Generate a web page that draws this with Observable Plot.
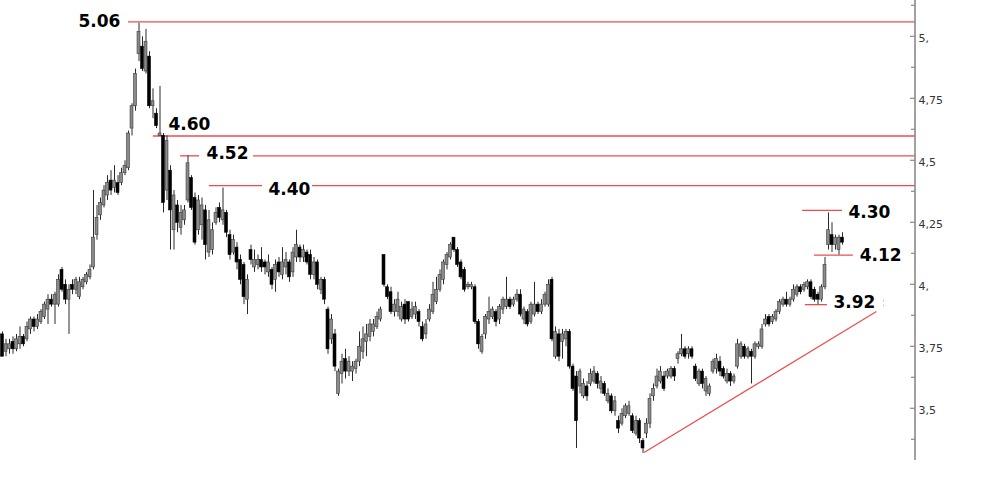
<!DOCTYPE html>
<html>
<head>
<meta charset="utf-8">
<script src="https://cdn.jsdelivr.net/npm/d3@7"></script>
<script src="https://cdn.jsdelivr.net/npm/@observablehq/plot@0.6"></script>
<style>
  html, body { margin: 0; padding: 0; background: #fff; }
  svg { display: block; }
</style>
</head>
<body>
<div id="chart"></div>
<script>
// ---- Candle data ----
const O = [
3.80,3.73,3.74,3.77,3.74,3.76,3.79,3.78,3.82,3.86,
3.83,3.85,3.87,3.90,3.94,3.92,3.92,4.06,4.00,3.94,
4.00,3.98,3.95,3.99,4.01,4.03,4.07,4.20,4.28,4.32,
4.36,4.42,4.39,4.41,4.41,4.45,4.47,4.63,4.72,4.93,
4.96,4.86,4.92,4.72,4.69,4.60,4.60,4.38,4.46,4.22,
4.32,4.23,4.26,4.34,4.43,4.35,4.22,4.24,4.30,4.13,
4.14,4.25,4.31,4.26,4.29,4.20,4.13,4.15,4.10,4.08,
3.94,4.14,4.07,4.08,4.10,4.09,4.05,4.06,4.02,4.09,
4.04,4.07,4.09,4.05,4.11,4.15,4.11,4.13,4.12,4.04,
4.09,3.98,4.02,3.90,3.78,3.80,3.56,3.64,3.70,3.65,
3.65,3.66,3.69,3.73,3.77,3.79,3.81,3.83,3.86,4.12,
3.99,3.97,3.89,3.89,3.86,3.92,3.93,3.87,3.88,3.89,
3.83,3.80,3.86,3.89,3.93,3.98,4.02,4.08,4.11,4.19,
4.14,4.09,4.06,3.99,3.99,3.99,3.85,3.73,3.80,3.86,
3.87,3.89,3.86,3.90,3.91,3.94,3.92,3.94,3.96,3.86,
3.89,3.85,3.88,3.92,3.89,3.92,3.92,4.02,3.71,3.80,
3.77,3.78,3.81,3.67,3.63,3.59,3.55,3.59,3.60,3.61,
3.64,3.58,3.60,3.53,3.55,3.49,3.45,3.44,3.47,3.48,
3.47,3.40,3.45,3.37,3.40,3.44,3.55,3.59,3.61,3.63,
3.63,3.63,3.66,3.70,3.72,3.74,3.72,3.74,3.67,3.60,
3.65,3.57,3.56,3.65,3.66,3.69,3.66,3.61,3.64,3.61,
3.67,3.71,3.75,3.71,3.73,3.71,3.75,3.75,3.84,3.87,
3.85,3.86,3.89,3.92,3.94,3.92,3.94,3.96,3.99,3.98,
3.99,4.01,3.98,3.96,3.94,3.99,4.16,4.20,4.16,4.14,
4.19];
const H = [
3.81,3.78,3.78,3.79,3.80,3.83,3.80,3.85,3.87,3.87,
3.88,3.90,3.93,3.96,3.96,3.97,4.04,4.07,4.02,4.00,
4.02,4.03,4.03,4.03,4.05,4.08,4.38,4.32,4.35,4.40,
4.44,4.46,4.48,4.44,4.47,4.50,4.62,4.73,4.87,5.055,
5.00,5.03,4.94,4.79,4.71,4.80,4.61,4.60,4.48,4.38,
4.34,4.32,4.32,4.52,4.44,4.37,4.36,4.35,4.32,4.30,
4.25,4.31,4.33,4.39,4.30,4.22,4.20,4.17,4.12,4.09,
4.04,4.16,4.14,4.12,4.15,4.10,4.12,4.07,4.10,4.11,
4.15,4.13,4.10,4.15,4.22,4.16,4.16,4.14,4.14,4.11,
4.10,4.03,4.03,3.91,3.88,3.82,3.66,3.72,3.74,3.71,
3.69,3.70,3.81,3.83,3.84,3.86,3.86,3.89,3.91,4.12,
4.00,3.99,3.94,3.97,3.93,3.94,3.93,3.93,3.93,3.90,
3.85,3.86,3.92,4.01,4.03,4.06,4.10,4.13,4.17,4.19,
4.15,4.10,4.07,4.01,4.01,4.00,3.86,3.80,3.88,3.95,
3.91,3.90,3.92,3.95,4.03,3.95,3.95,3.98,3.98,3.91,
3.90,3.93,4.01,3.93,3.94,3.97,4.02,4.03,3.83,3.82,
3.82,3.82,3.82,3.68,3.65,3.66,3.62,3.61,3.66,3.67,
3.65,3.63,3.61,3.58,3.56,3.55,3.47,3.50,3.52,3.53,
3.48,3.47,3.46,3.38,3.46,3.56,3.60,3.66,3.67,3.65,
3.66,3.67,3.67,3.73,3.80,3.75,3.75,3.75,3.68,3.66,
3.66,3.63,3.60,3.70,3.72,3.71,3.67,3.66,3.65,3.64,
3.78,3.77,3.76,3.75,3.74,3.77,3.77,3.84,3.88,3.88,
3.88,3.90,3.94,3.95,3.97,3.95,4.00,4.00,4.00,4.01,
4.02,4.02,3.99,3.97,4.00,4.11,4.29,4.25,4.20,4.20,
4.21];
const L = [
3.71,3.71,3.72,3.72,3.73,3.74,3.75,3.77,3.80,3.81,
3.82,3.84,3.86,3.84,3.91,3.84,3.91,3.97,3.92,3.80,
3.96,3.96,3.94,3.98,4.00,4.02,4.06,4.18,4.26,4.31,
4.34,4.36,4.37,4.36,4.40,4.44,4.46,4.60,4.70,4.90,
4.86,4.85,4.71,4.67,4.63,4.60,4.29,4.34,4.14,4.14,
4.21,4.20,4.24,4.33,4.30,4.16,4.20,4.18,4.10,4.11,
4.12,4.24,4.25,4.24,4.19,4.10,4.12,4.06,4.00,3.92,
3.88,4.08,4.05,4.06,4.05,4.04,4.03,3.98,3.97,4.03,
4.02,4.04,4.01,4.03,4.09,4.09,4.09,4.08,4.02,4.02,
3.98,3.96,3.92,3.72,3.76,3.65,3.55,3.60,3.62,3.63,
3.61,3.64,3.67,3.70,3.71,3.77,3.79,3.82,3.85,3.99,
3.94,3.88,3.87,3.87,3.85,3.84,3.85,3.86,3.86,3.83,
3.77,3.78,3.85,3.88,3.92,3.97,4.00,4.06,4.10,4.13,
4.07,4.02,3.97,3.98,3.98,3.84,3.74,3.72,3.78,3.84,
3.86,3.83,3.84,3.88,3.90,3.90,3.91,3.93,3.87,3.84,
3.83,3.84,3.87,3.88,3.88,3.91,3.91,3.77,3.70,3.69,
3.70,3.75,3.66,3.57,3.34,3.56,3.54,3.53,3.59,3.60,
3.58,3.56,3.55,3.52,3.48,3.47,3.40,3.43,3.46,3.47,
3.40,3.39,3.36,3.32,3.38,3.42,3.53,3.58,3.60,3.57,
3.62,3.62,3.61,3.68,3.71,3.70,3.70,3.70,3.61,3.59,
3.58,3.55,3.55,3.64,3.64,3.63,3.62,3.60,3.59,3.60,
3.66,3.70,3.70,3.70,3.60,3.70,3.74,3.74,3.83,3.83,
3.84,3.85,3.88,3.91,3.91,3.91,3.93,3.95,3.96,3.97,
3.98,3.94,3.93,3.92,3.93,3.98,4.14,4.13,4.14,4.12,
4.16];
const C = [
3.71,3.76,3.76,3.74,3.78,3.79,3.76,3.83,3.86,3.83,
3.86,3.89,3.92,3.94,3.92,3.96,4.02,3.98,3.94,3.98,
3.98,4.02,4.01,4.02,4.04,4.06,4.19,4.27,4.33,4.38,
4.41,4.38,4.42,4.37,4.45,4.48,4.61,4.72,4.85,5.02,
4.87,4.98,4.72,4.74,4.64,4.61,4.33,4.58,4.30,4.36,
4.25,4.29,4.30,4.49,4.31,4.17,4.34,4.32,4.16,4.26,
4.22,4.29,4.27,4.30,4.21,4.12,4.18,4.09,4.02,3.95,
4.02,4.10,4.10,4.10,4.07,4.07,4.09,4.00,4.08,4.05,
4.09,4.10,4.03,4.13,4.16,4.11,4.14,4.09,4.04,4.09,
4.00,4.02,3.94,3.74,3.86,3.67,3.65,3.69,3.65,3.69,
3.67,3.69,3.75,3.78,3.80,3.84,3.84,3.87,3.90,4.00,
3.95,3.89,3.92,3.94,3.91,3.86,3.86,3.90,3.91,3.85,
3.78,3.84,3.90,3.96,3.98,4.04,4.09,4.12,4.16,4.14,
4.08,4.03,3.98,4.00,4.00,3.85,3.76,3.79,3.87,3.89,
3.90,3.85,3.91,3.94,3.94,3.91,3.94,3.96,3.88,3.90,
3.84,3.92,3.92,3.89,3.92,3.96,4.00,3.78,3.81,3.71,
3.80,3.81,3.67,3.58,3.45,3.65,3.60,3.55,3.64,3.65,
3.60,3.61,3.56,3.56,3.49,3.53,3.42,3.48,3.51,3.51,
3.41,3.45,3.38,3.34,3.44,3.54,3.58,3.63,3.65,3.58,
3.65,3.66,3.63,3.72,3.74,3.71,3.74,3.71,3.62,3.65,
3.60,3.62,3.59,3.69,3.70,3.65,3.63,3.64,3.61,3.63,
3.76,3.76,3.71,3.74,3.71,3.76,3.76,3.82,3.86,3.84,
3.87,3.89,3.93,3.94,3.92,3.94,3.98,3.99,3.97,4.00,
4.01,3.95,3.94,3.94,3.99,4.08,4.22,4.16,4.19,4.19,
4.17];

// ---- Annotated price levels ----
const levelValues = [5.06, 4.60, 4.52, 4.40, 4.30, 4.12, 3.92];
const levelLabels = ["5.06", "4.60", "4.52", "4.40", "4.30", "4.12", "3.92"];

// ---- Axis ticks ----
const majorTicks = [5.0, 4.75, 4.5, 4.25, 4.0, 3.75, 3.5];
const tickLabels = ["5,", "4,75", "4,5", "4,25", "4,", "3,75", "3,5"];
const minorTicks = [5.125, 4.875, 4.625, 4.375, 4.125, 3.875, 3.625, 3.375];

// ---- Trend line (support), from the low to the right ----
const trendX = [183.3, 249.7];
const trendY = [3.324, 3.892];

// Build tables
const candles = O.map((o, i) => ({ i, o, h: H[i], l: L[i], c: C[i] }));
const RIGHT = 260.9; // index at the right axis
const segSpec = [
  [[36, RIGHT]],
  [[43.1, RIGHT]],
  [[50.9, 56.3], [71.7, RIGHT]],
  [[59.1, 74.3], [88.6, RIGHT]],
  [[228.6, 240]],
  [[232, 243.1]],
  [[229.4, 235.7]]
];
const segments = [];
levelValues.forEach((v, k) => segSpec[k].forEach(([a, b]) => segments.push({ x1: a, x2: b, y: v })));
const labelSpec = [
  { x: 33.7, y: 5.06, anchor: "end" },
  { x: 47.4, y: 4.648, anchor: "start" },
  { x: 58.3, y: 4.528, anchor: "start" },
  { x: 76.0, y: 4.386, anchor: "start" },
  { x: 241.7, y: 4.292, anchor: "start" },
  { x: 244.9, y: 4.118, anchor: "start" },
  { x: 237.4, y: 3.930, anchor: "start" }
];
const labels = labelSpec.map((s, k) => ({ ...s, text: levelLabels[k] }));
const trend = [{ x1: trendX[0], y1: trendY[0], x2: trendX[1], y2: trendY[1] }];
const labelMap = new Map(majorTicks.map((t, k) => [t, tickLabels[k]]));

const RED = "#ec4c4c";
const textOpts = { x: "x", y: "y", text: "text", fontSize: 17, fontWeight: "bold", fill: "#000" };
const chart = Plot.plot({
  width: 1000,
  height: 491,
  marginTop: 0,
  marginBottom: 31,
  marginLeft: 0,
  marginRight: 85,
  style: { background: "#fff", fontFamily: "DejaVu Sans, Verdana, sans-serif", overflow: "visible" },
  x: { domain: [0, 240], range: [2, 842], axis: null },
  y: { domain: [3.2915, 5.1464], axis: null },
  marks: [
    Plot.ruleY(segments, { x1: "x1", x2: "x2", y: "y", stroke: RED, strokeWidth: 1.3 }),
    Plot.link(trend, { x1: "x1", y1: "y1", x2: "x2", y2: "y2", stroke: RED, strokeWidth: 1.2 }),
    Plot.ruleX([{ x: 251.7 }], { x: "x", y1: 3.912, y2: 3.945, stroke: "#f3a3a3", strokeWidth: 1, strokeDasharray: "1.5,3" }),
    Plot.ruleX(candles, { x: "i", y1: "l", y2: "h", stroke: "#2a2a2a", strokeWidth: 1 }),
    Plot.rect(candles, {
      x1: d => d.i - 0.42, x2: d => d.i + 0.42,
      y1: "o", y2: "c",
      fill: d => d.c >= d.o ? "#8a8a8a" : "#000",
      stroke: d => d.c >= d.o ? "#3a3a3a" : "#000",
      strokeWidth: 0.6
    }),
    Plot.text(labels.filter(d => d.anchor === "end"), { ...textOpts, textAnchor: "end" }),
    Plot.text(labels.filter(d => d.anchor === "start"), { ...textOpts, textAnchor: "start" }),
    Plot.axisY({ anchor: "right", ticks: majorTicks, tickSize: 0, tickPadding: 3, dy: 2,
      tickFormat: d => labelMap.get(d), fontSize: 11, fill: "#333", color: "#333" })
  ]
});

// right-hand axis line and inward ticks, drawn with the plot's own y scale
const ys = chart.scale("y");
const svg = d3.select(chart);
const ax = 915;
const g = svg.append("g").attr("stroke", "#8a8a8a");
g.append("line").attr("x1", ax).attr("x2", ax).attr("y1", 0).attr("y2", ys.apply(3.2915)).attr("stroke-width", 1.6);
majorTicks.forEach(t => g.append("line").attr("x1", ax - 5).attr("x2", ax).attr("y1", ys.apply(t)).attr("y2", ys.apply(t)).attr("stroke-width", 1.2));
minorTicks.forEach(t => g.append("line").attr("x1", ax - 4).attr("x2", ax).attr("y1", ys.apply(t)).attr("y2", ys.apply(t)).attr("stroke-width", 1.2));

document.getElementById("chart").appendChild(chart);
</script>
</body>
</html>
